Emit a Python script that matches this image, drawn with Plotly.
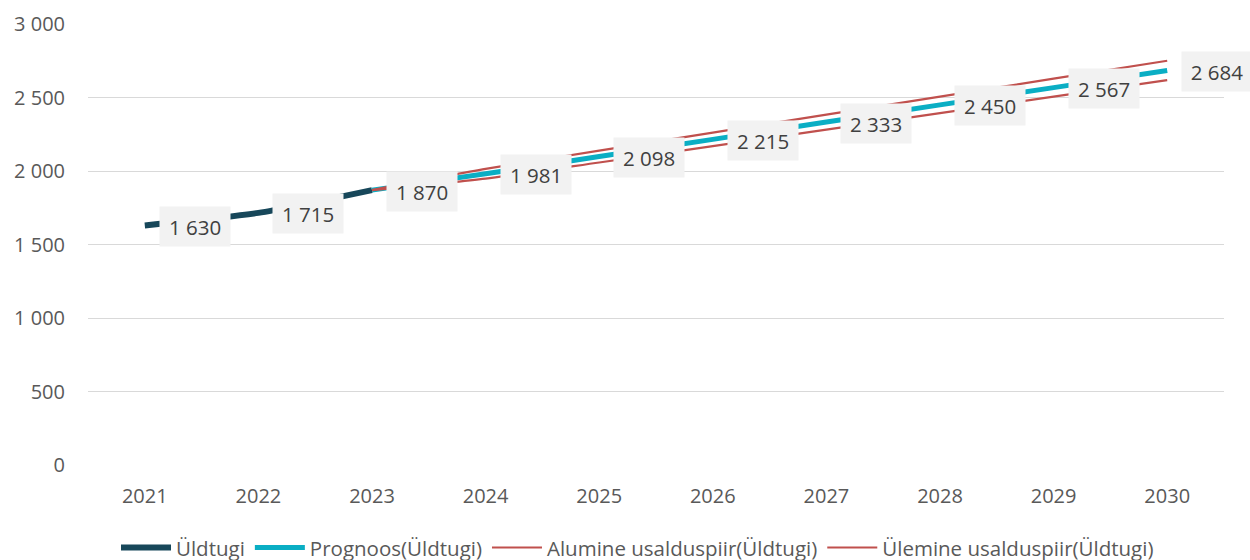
import plotly.graph_objects as go

years_hist = [2021, 2022, 2023]
uldtugi = [1630, 1715, 1870]

years_fc = [2023, 2024, 2025, 2026, 2027, 2028, 2029, 2030]
prognoos = [1870, 1981, 2098, 2215, 2333, 2450, 2567, 2684]
alumine = [1870, 1948, 2058, 2169, 2282, 2394, 2506, 2618]
ulemine = [1870, 2014, 2138, 2261, 2384, 2506, 2628, 2750]

names = ["Üldtugi", "Prognoos(Üldtugi)", "Alumine usalduspiir(Üldtugi)", "Ülemine usalduspiir(Üldtugi)"]

FONT = "Open Sans"
TXT = "#595959"

fig = go.Figure()
fig.add_trace(go.Scatter(x=years_hist, y=uldtugi, name=names[0], mode="lines",
                         line=dict(color="#17475a", width=6, shape="spline", smoothing=0.6)))
fig.add_trace(go.Scatter(x=years_fc, y=prognoos, name=names[1], mode="lines",
                         line=dict(color="#0aaec4", width=5, shape="spline", smoothing=0.6)))
fig.add_trace(go.Scatter(x=years_fc, y=alumine, name=names[2], mode="lines",
                         line=dict(color="#c0504d", width=2.2, shape="spline", smoothing=0.6)))
fig.add_trace(go.Scatter(x=years_fc, y=ulemine, name=names[3], mode="lines",
                         line=dict(color="#c0504d", width=2.2, shape="spline", smoothing=0.6)))

def fmt(v):
    return f"{v:,}".replace(",", " ")

label_x = years_hist + years_fc[1:]
label_y = uldtugi + prognoos[1:]
for x, y in zip(label_x, label_y):
    fig.add_annotation(x=x, y=y, text=fmt(y), showarrow=False, xanchor="left", yanchor="middle",
                       xshift=14, yshift=-1, width=68, height=37, bgcolor="#f2f2f2",
                       font=dict(family=FONT, size=20.5, color="#404040"), align="center")

fig.update_layout(
    width=1250, height=560,
    margin=dict(l=88, r=26, t=24, b=95, autoexpand=False),
    plot_bgcolor="white", paper_bgcolor="white",
    separators=", ",
    font=dict(family=FONT, size=20, color=TXT),
    showlegend=True,
    legend=dict(orientation="h", x=0.51, xanchor="center", xref="container",
                y=0.022, yanchor="middle", yref="container",
                font=dict(family=FONT, size=20.5, color=TXT), itemwidth=50,
                tracegroupgap=0),
    xaxis=dict(range=[2020.5, 2030.5], dtick=1, tick0=2021, showgrid=False, zeroline=False,
               showline=False, ticks="", ticklabelstandoff=17, automargin=False,
               tickfont=dict(family=FONT, size=20, color=TXT)),
    yaxis=dict(range=[0, 3000], dtick=500, tickformat=",d", showgrid=True, gridcolor="#d9d9d9",
               gridwidth=1, zeroline=False, showline=False, ticks="", ticklabelstandoff=22,
               automargin=False,
               tickfont=dict(family=FONT, size=20, color=TXT)),
)

fig.write_html("out.html", config={"displayModeBar": False},
               post_script="document.body.style.margin='0';document.body.style.overflow='hidden';")
